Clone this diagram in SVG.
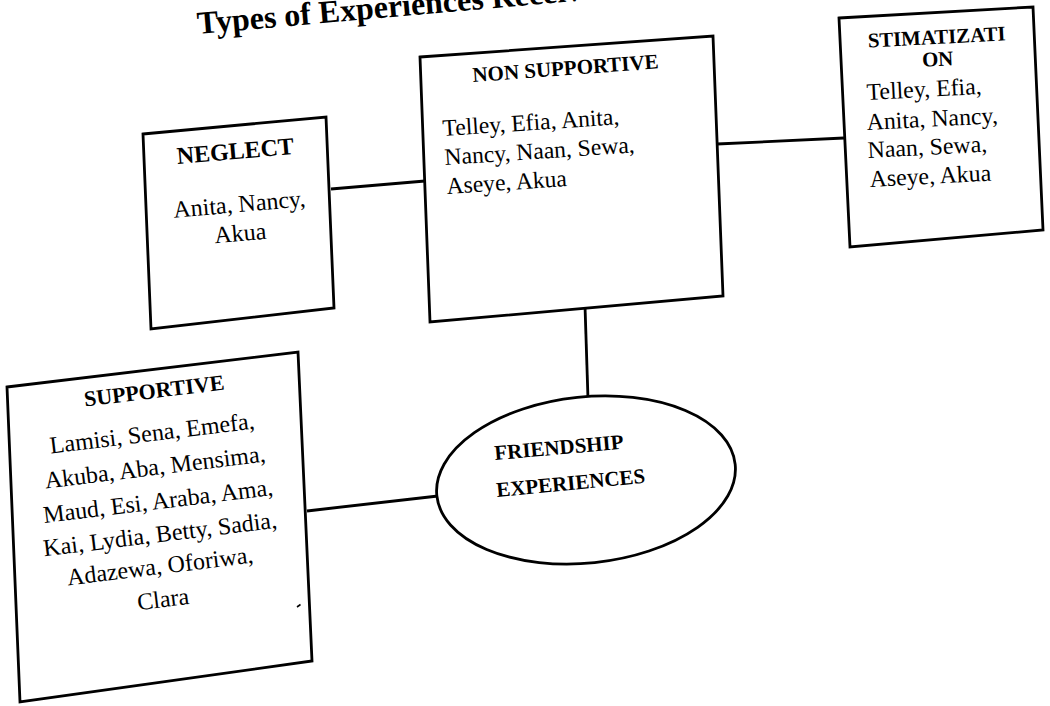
<svg xmlns="http://www.w3.org/2000/svg" width="1050" height="706" viewBox="0 0 1050 706">
  <style>
    .box { fill: #ffffff; stroke: #000000; stroke-width: 2.8; stroke-linejoin: miter; }
    .link { fill: none; stroke: #000000; stroke-width: 2.8; }
    .hd { font-family: "Liberation Serif", "Times New Roman", serif; font-weight: bold; fill: #000000; }
    .tx { font-family: "Liberation Serif", "Times New Roman", serif; fill: #000000; }
    .c { text-anchor: middle; }
  </style>
  <rect width="1050" height="706" fill="#ffffff"/>

  <!-- title, partly running off the top edge -->
  <text class="hd" font-size="32" x="198" y="34" transform="rotate(-5 198 34)">Types of Experiences Received</text>

  <!-- connectors -->
  <g id="connectors">
    <line class="link" x1="331" y1="189" x2="425" y2="181"/>
    <line class="link" x1="717" y1="144" x2="844" y2="138"/>
    <line class="link" x1="585" y1="306" x2="588" y2="399"/>
    <line class="link" x1="307" y1="511" x2="438" y2="496"/>
  </g>

  <g id="neglect">
    <polygon class="box" points="143,134 326,117 334,308 151,329"/>
    <text class="hd c" font-size="24" x="236" y="159" transform="rotate(-5 236 159)">NEGLECT</text>
    <text class="tx c" font-size="24" x="240" y="212" transform="rotate(-5 240 212)">Anita, Nancy,</text>
    <text class="tx c" font-size="24" x="241" y="241" transform="rotate(-5 241 241)">Akua</text>
  </g>

  <g id="non-supportive">
    <polygon class="box" points="420,57 713,36 723,296 430,322"/>
    <text class="hd" font-size="21" x="473" y="82" transform="rotate(-4.2 473 82)">NON SUPPORTIVE</text>
    <text class="tx" font-size="23.6" x="443" y="136" transform="rotate(-3.8 443 136)">Telley, Efia, Anita,</text>
    <text class="tx" font-size="23.6" x="445" y="165" transform="rotate(-3.8 445 165)">Nancy, Naan, Sewa,</text>
    <text class="tx" font-size="23.6" x="447" y="194" transform="rotate(-3.8 447 194)">Aseye, Akua</text>
  </g>

  <g id="stigmatization">
    <polygon class="box" points="839,18 1033,7 1043,230 850,247"/>
    <text class="hd c" font-size="20.8" x="937" y="44" transform="rotate(-3 937 44)">STIMATIZATI</text>
    <text class="hd c" font-size="20.8" x="938" y="66" transform="rotate(-3 938 66)">ON</text>
    <text class="tx" font-size="23.8" x="867" y="100" transform="rotate(-3 867 100)">Telley, Efia,</text>
    <text class="tx" font-size="23.8" x="867" y="130" transform="rotate(-3 867 130)">Anita, Nancy,</text>
    <text class="tx" font-size="23.8" x="868" y="158" transform="rotate(-3 868 158)">Naan, Sewa,</text>
    <text class="tx" font-size="23.8" x="870" y="187" transform="rotate(-3 870 187)">Aseye, Akua</text>
  </g>

  <g id="supportive">
    <polygon class="box" points="7,387 298,352 312,661 20,702"/>
    <text class="hd c" font-size="22" x="155" y="398" transform="rotate(-7 155 398)">SUPPORTIVE</text>
    <text class="tx c" font-size="24" x="153" y="441" transform="rotate(-7 153 441)">Lamisi, Sena, Emefa,</text>
    <text class="tx c" font-size="24" x="156" y="475" transform="rotate(-7 156 475)">Akuba, Aba, Mensima,</text>
    <text class="tx c" font-size="24" x="159" y="509" transform="rotate(-7 159 509)">Maud, Esi, Araba, Ama,</text>
    <text class="tx c" font-size="24" x="161" y="542" transform="rotate(-7 161 542)">Kai, Lydia, Betty, Sadia,</text>
    <text class="tx c" font-size="24" x="161" y="574" transform="rotate(-7 161 574)">Adazewa, Oforiwa,</text>
    <text class="tx c" font-size="24" x="164" y="607" transform="rotate(-7 164 607)">Clara</text>
    <!-- small stray tick inside the box -->
    <line x1="297" y1="607" x2="300.5" y2="604.5" stroke="#000000" stroke-width="1.6"/>
  </g>

  <g id="friendship-experiences">
    <ellipse class="box" cx="586" cy="480" rx="150" ry="83" transform="rotate(-6 586 480)"/>
    <text class="hd" font-size="21" x="495" y="460" transform="rotate(-5 495 460)">FRIENDSHIP</text>
    <text class="hd" font-size="21" x="497" y="497" transform="rotate(-5.5 497 497)">EXPERIENCES</text>
  </g>
</svg>
